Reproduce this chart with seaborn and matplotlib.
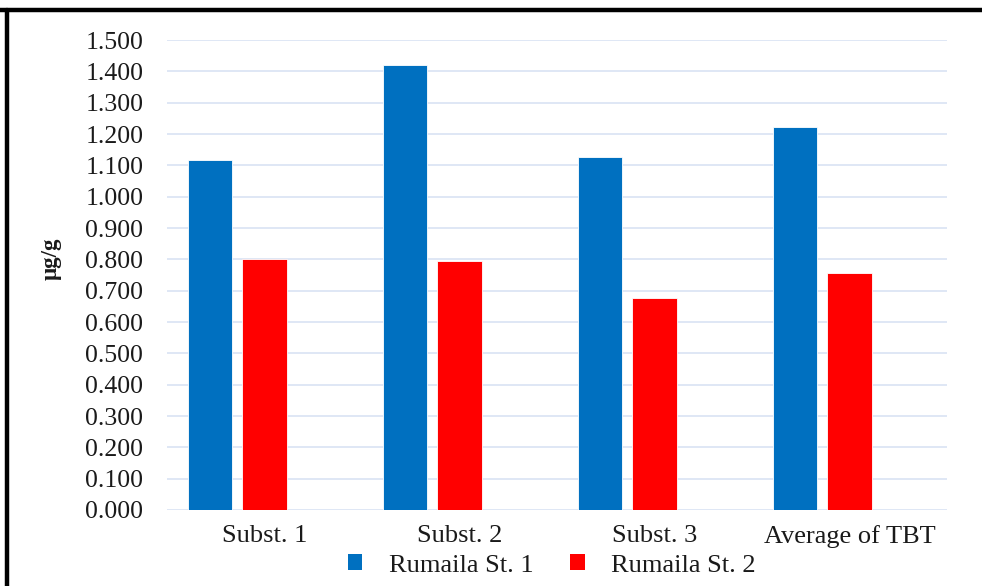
import matplotlib
matplotlib.use("Agg")
import matplotlib.pyplot as plt
from matplotlib.lines import Line2D
from matplotlib.patches import Patch
from matplotlib.ticker import FormatStrFormatter, MultipleLocator
import seaborn as sns
import pandas as pd

# TBT concentrations (µg/g) per substation
categories = ["Subst. 1", "Subst. 2", "Subst. 3", "Average of TBT"]
station_1 = [1.117, 1.419, 1.127, 1.221]
station_2 = [0.801, 0.796, 0.677, 0.758]
series_names = ["Rumaila St. 1", "Rumaila St. 2"]

colors = ["#0070C0", "#FF0000", "#FFFFFF"]

df = pd.DataFrame({
    "category": categories * 2,
    "station": [series_names[0]] * len(categories) + [series_names[1]] * len(categories),
    "value": station_1 + station_2,
})

sns.set_theme(style="white")
plt.rcParams["font.family"] = ["Liberation Serif", "DejaVu Serif"]
text_color = "#1a1a1a"

fig = plt.figure(figsize=(9.82, 5.86), dpi=100)
ax = fig.add_axes([0.170, 0.1297, 0.7944, 0.802])

# an empty third slot keeps each pair left of the category centre
hue_levels = series_names + [" "]
sns.barplot(
    data=df, x="category", y="value", hue="station",
    order=categories, hue_order=hue_levels, palette=colors,
    saturation=1, width=0.84, gap=0.19, legend=False,
    edgecolor="#ffffff", linewidth=0.6, ax=ax,
)

ax.set_ylim(0, 1.5)
ax.yaxis.set_major_locator(MultipleLocator(0.1))
ax.yaxis.set_major_formatter(FormatStrFormatter("%.3f"))
ax.grid(axis="y", color="#D9E3F3", linewidth=1.2)
ax.set_axisbelow(True)
for s in ax.spines.values():
    s.set_visible(False)

ax.tick_params(axis="y", length=0, pad=17, labelsize=18.5, labelcolor=text_color)
ax.tick_params(axis="x", length=0, pad=11, labelsize=19, labelcolor=text_color)
ax.set_xlabel("")
ax.set_ylabel("μg/g", fontsize=16.5, fontweight="bold", color=text_color)
ax.yaxis.set_label_coords(-0.135, 0.535)

handles = [Patch(facecolor=colors[i], edgecolor="none") for i in range(2)]
fig.legend(
    handles, series_names, loc="center", bbox_to_anchor=(0.562, 0.035),
    ncol=2, frameon=False, fontsize=19, handlelength=0.55, handleheight=0.55,
    handletextpad=1.0, columnspacing=1.4, labelcolor=text_color,
)

# black frame along the top and left edges
fig.add_artist(Line2D([0.0, 1.0], [0.983, 0.983], color="black", linewidth=3.2,
                      transform=fig.transFigure))
fig.add_artist(Line2D([0.0072, 0.0072], [0.0, 0.983], color="black", linewidth=3.2,
                      transform=fig.transFigure))

fig.savefig("out.png", dpi=100)
